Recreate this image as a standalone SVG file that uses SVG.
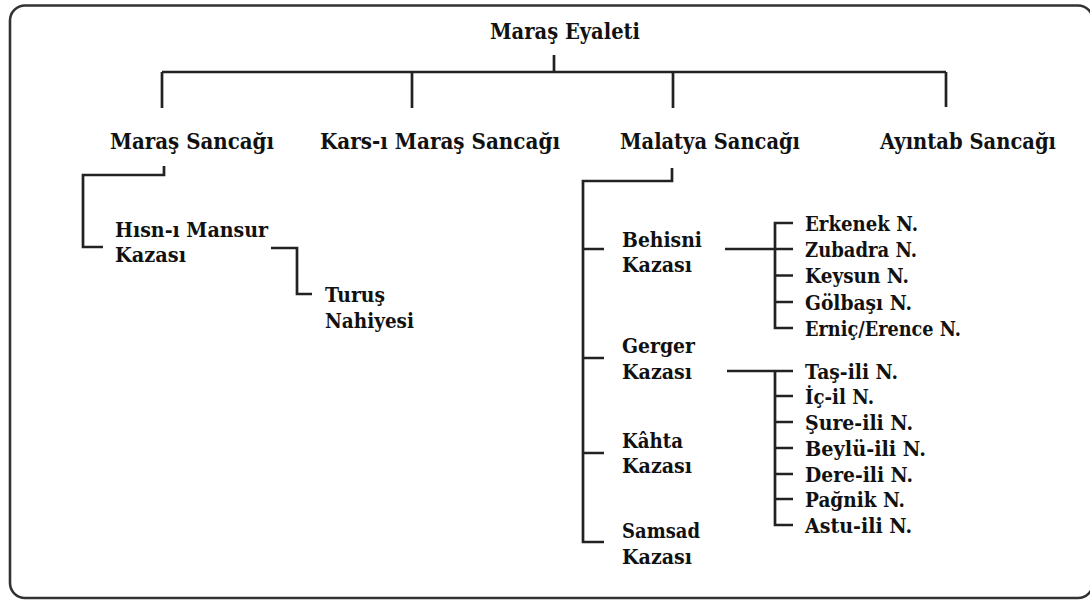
<svg xmlns="http://www.w3.org/2000/svg" width="1090" height="605" viewBox="0 0 1090 605">
<style>
text{font-family:"DejaVu Serif","Liberation Serif",serif;font-weight:bold;fill:#111}
.h{font-size:22px}
.k{font-size:20px}
.n{font-size:20px}
.c{fill:none;stroke:#222;stroke-width:2.7;stroke-linecap:butt;stroke-linejoin:miter}
.frame{fill:#fff;stroke:#333;stroke-width:2.6}
</style>
<rect width="1090" height="605" fill="#fff"/>
<rect class="frame" x="10" y="5.5" width="1083" height="592.5" rx="15" ry="15"/>
<g id="connectors">
<path class="c" d="M554,55V72M162,72H946M162,72V108M412,72V108M673,72V108M946,72V107"/>
<path class="c" d="M164,166V175H83V247H103"/>
<path class="c" d="M271,248H297V294H312"/>
<path class="c" d="M672,168V181H583V542H604M583,249H604M583,358H604M583,453H604"/>
<path class="c" d="M725,249H793M793,223H775V328H793M775,275.5H793M775,302H793"/>
<path class="c" d="M727,371H793M775,371V525H793M775,396H793M775,422H793M775,448H793M775,474H793M775,499H793"/>
</g>
<g id="maras-eyaleti"><text class="h" x="490" y="39" textLength="150" lengthAdjust="spacingAndGlyphs">Maraş Eyaleti</text></g>
<g id="maras-sancagi"><text class="h" x="110" y="149" textLength="164" lengthAdjust="spacingAndGlyphs">Maraş Sancağı</text></g>
<g id="kars-maras-sancagi"><text class="h" x="320" y="149" textLength="240" lengthAdjust="spacingAndGlyphs">Kars-ı Maraş Sancağı</text></g>
<g id="malatya-sancagi"><text class="h" x="620" y="149" textLength="180" lengthAdjust="spacingAndGlyphs">Malatya Sancağı</text></g>
<g id="ayintab-sancagi"><text class="h" x="880" y="149" textLength="176" lengthAdjust="spacingAndGlyphs">Ayıntab Sancağı</text></g>
<g id="hisn-i-mansur">
<text class="k" x="115" y="237" textLength="153" lengthAdjust="spacingAndGlyphs">Hısn-ı Mansur</text>
<text class="k" x="115" y="262" textLength="71" lengthAdjust="spacingAndGlyphs">Kazası</text>
</g>
<g id="turus">
<text class="k" x="325" y="302" textLength="60" lengthAdjust="spacingAndGlyphs">Turuş</text>
<text class="k" x="325" y="328" textLength="89" lengthAdjust="spacingAndGlyphs">Nahiyesi</text>
</g>
<g id="behisni">
<text class="k" x="622" y="247" textLength="80" lengthAdjust="spacingAndGlyphs">Behisni</text>
<text class="k" x="622" y="272" textLength="70" lengthAdjust="spacingAndGlyphs">Kazası</text>
</g>
<g id="gerger">
<text class="k" x="622" y="353" textLength="73" lengthAdjust="spacingAndGlyphs">Gerger</text>
<text class="k" x="622" y="379" textLength="70" lengthAdjust="spacingAndGlyphs">Kazası</text>
</g>
<g id="kahta">
<text class="k" x="622" y="448" textLength="61" lengthAdjust="spacingAndGlyphs">Kâhta</text>
<text class="k" x="622" y="473" textLength="70" lengthAdjust="spacingAndGlyphs">Kazası</text>
</g>
<g id="samsad">
<text class="k" x="622" y="538" textLength="78" lengthAdjust="spacingAndGlyphs">Samsad</text>
<text class="k" x="622" y="564" textLength="70" lengthAdjust="spacingAndGlyphs">Kazası</text>
</g>
<g id="erkenek"><text class="n" x="805" y="231" textLength="113" lengthAdjust="spacingAndGlyphs">Erkenek N.</text></g>
<g id="zubadra"><text class="n" x="805" y="257" textLength="112" lengthAdjust="spacingAndGlyphs">Zubadra N.</text></g>
<g id="keysun"><text class="n" x="805" y="283" textLength="104" lengthAdjust="spacingAndGlyphs">Keysun N.</text></g>
<g id="golbasi"><text class="n" x="805" y="309.5" textLength="107" lengthAdjust="spacingAndGlyphs">Gölbaşı N.</text></g>
<g id="ernic"><text class="n" x="805" y="335.5" textLength="156" lengthAdjust="spacingAndGlyphs">Erniç/Erence N.</text></g>
<g id="tas-ili"><text class="n" x="805" y="378.5" textLength="93" lengthAdjust="spacingAndGlyphs">Taş-ili N.</text></g>
<g id="ic-il"><text class="n" x="805" y="403.5" textLength="69" lengthAdjust="spacingAndGlyphs">İç-il N.</text></g>
<g id="sure-ili"><text class="n" x="805" y="429.5" textLength="108" lengthAdjust="spacingAndGlyphs">Şure-ili N.</text></g>
<g id="beylu-ili"><text class="n" x="805" y="455.5" textLength="121" lengthAdjust="spacingAndGlyphs">Beylü-ili N.</text></g>
<g id="dere-ili"><text class="n" x="805" y="481.5" textLength="108" lengthAdjust="spacingAndGlyphs">Dere-ili N.</text></g>
<g id="pagnik"><text class="n" x="805" y="506.5" textLength="100" lengthAdjust="spacingAndGlyphs">Pağnik N.</text></g>
<g id="astu-ili"><text class="n" x="805" y="532.5" textLength="107" lengthAdjust="spacingAndGlyphs">Astu-ili N.</text></g>
</svg>
